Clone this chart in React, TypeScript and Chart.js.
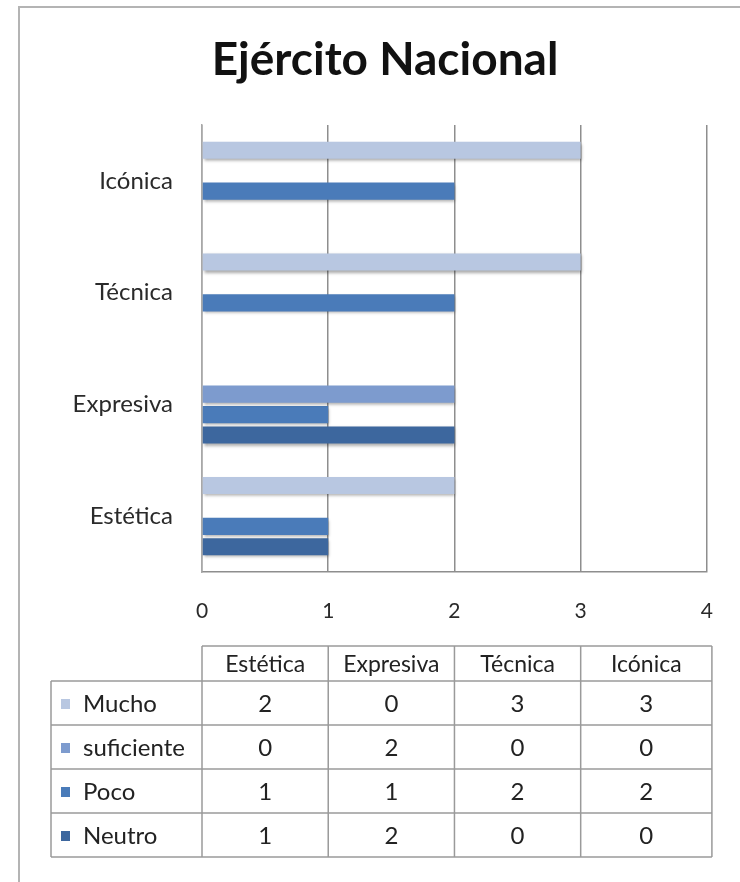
import React, { useEffect, useRef } from "react";
import { Chart, registerables } from "chart.js";

Chart.register(...registerables);

const TITLE = "Ejército Nacional";
const categories = ["Estética", "Expresiva", "Técnica", "Icónica"];
const seriesNames = ["Mucho", "suficiente", "Poco", "Neutro"];
const mucho = [2, 0, 3, 3];
const suficiente = [0, 2, 0, 0];
const poco = [1, 1, 2, 2];
const neutro = [1, 2, 0, 0];
const seriesColors = ["#b8c7e1", "#7d9bce", "#4a7bb9", "#3d679e"];
const xTicks = [0, 1, 2, 3, 4];

const FONT = "Lato, 'Open Sans', sans-serif";

export default function App() {
  const ref = useRef<HTMLCanvasElement | null>(null);

  useEffect(() => {
    const canvas = ref.current;
    if (!canvas) return;
    const seriesValues = [mucho, suficiente, poco, neutro];
    // chart shows categories top-to-bottom in reverse table order
    const order = categories.map((_, i) => categories.length - 1 - i);
    const labels = order.map((i) => categories[i]);

    const framePlugin = {
      id: "frame",
      beforeDraw(chart: any) {
        const ctx = chart.ctx;
        ctx.save();
        ctx.fillStyle = "#ffffff";
        ctx.fillRect(0, 0, chart.width, chart.height);
        ctx.strokeStyle = "#b4b4b4";
        ctx.lineWidth = 2;
        ctx.beginPath();
        ctx.moveTo(19, chart.height);
        ctx.lineTo(19, 7);
        ctx.lineTo(chart.width, 7);
        ctx.stroke();
        // title
        ctx.fillStyle = "#111111";
        ctx.font = `bold 46px ${FONT}`;
        ctx.textAlign = "center";
        ctx.textBaseline = "alphabetic";
        ctx.fillText(TITLE, 385, 75);
        ctx.restore();
      },
    };

    const shadowPlugin = {
      id: "barShadow",
      beforeDatasetsDraw(chart: any) {
        const ctx = chart.ctx;
        ctx.save();
        ctx.shadowColor = "rgba(0,0,0,0.35)";
        ctx.shadowOffsetX = 1;
        ctx.shadowOffsetY = 2;
        ctx.shadowBlur = 3;
      },
      afterDatasetsDraw(chart: any) {
        chart.ctx.restore();
      },
    };

    const tablePlugin = {
      id: "dataTable",
      afterDraw(chart: any) {
        const ctx = chart.ctx;
        const xs = chart.scales.x;
        const cols = xTicks.map((v) => xs.getPixelForValue(v));
        const left = 51;
        const headTop = 646;
        const headBottom = 681;
        const rowH = 44;
        const bottom = headBottom + rowH * seriesNames.length;
        const right = cols[cols.length - 1] + 5;
        cols[cols.length - 1] = right;
        ctx.save();
        ctx.strokeStyle = "#9a9a9a";
        ctx.lineWidth = 1.5;
        ctx.beginPath();
        ctx.moveTo(cols[0], headTop);
        ctx.lineTo(right, headTop);
        for (let r = 0; r <= seriesNames.length; r++) {
          const y = headBottom + r * rowH;
          ctx.moveTo(left, y);
          ctx.lineTo(right, y);
        }
        ctx.moveTo(left, headBottom);
        ctx.lineTo(left, bottom);
        cols.forEach((x) => {
          ctx.moveTo(x, headTop);
          ctx.lineTo(x, bottom);
        });
        ctx.stroke();

        ctx.fillStyle = "#222222";
        ctx.font = `23px ${FONT}`;
        ctx.textAlign = "center";
        ctx.textBaseline = "middle";
        categories.forEach((c, i) => {
          ctx.fillText(c, (cols[i] + cols[i + 1]) / 2, (headTop + headBottom) / 2 + 1);
        });
        ctx.font = `24px ${FONT}`;
        seriesNames.forEach((s, r) => {
          const cy = headBottom + r * rowH + rowH / 2 + 1;
          ctx.fillStyle = seriesColors[r];
          ctx.fillRect(61, cy - 5, 9, 10);
          ctx.fillStyle = "#222222";
          ctx.textAlign = "left";
          ctx.fillText(s, 83, cy);
          ctx.textAlign = "center";
          seriesValues[r].forEach((v, i) => {
            ctx.fillText(String(v), (cols[i] + cols[i + 1]) / 2, cy);
          });
        });
        ctx.restore();
      },
    };

    const chart = new Chart(canvas, {
      type: "bar",
      data: {
        labels,
        datasets: seriesNames.map((name, s) => ({
          label: name,
          data: order.map((i) => seriesValues[s][i]),
          backgroundColor: seriesColors[s],
          borderWidth: 0,
          categoryPercentage: 0.73,
          barPercentage: 0.84,
        })),
      },
      options: {
        indexAxis: "y",
        responsive: false,
        animation: false,
        events: [],
        layout: { padding: { top: 125, left: 0, right: 29, bottom: 260 } },
        plugins: {
          legend: { display: false },
          title: { display: false },
          tooltip: { enabled: false },
        },
        scales: {
          x: {
            min: 0,
            max: 4,
            afterFit: (scale: any) => {
              scale.height = 50;
            },
            afterBuildTicks: (scale: any) => {
              scale.ticks = xTicks.map((v) => ({ value: v }));
            },
            ticks: {
              color: "#2a2a2a",
              font: { family: FONT, size: 21 },
              padding: 27,
            },
            grid: {
              color: "#8e8e8e",
              lineWidth: 1.5,
              drawTicks: false,
            },
            border: { display: true, color: "#8e8e8e", width: 1.5 },
          },
          y: {
            afterFit: (scale: any) => {
              scale.width = 202;
            },
            ticks: {
              color: "#2a2a2a",
              font: { family: FONT, size: 24 },
              padding: 29,
            },
            grid: { display: false, drawTicks: false },
            border: { display: true, color: "#a8a8a8", width: 1.5 },
          },
        },
      },
      plugins: [framePlugin, shadowPlugin, tablePlugin],
    });

    if ((document as any).fonts && (document as any).fonts.load) {
      Promise.all([
        (document as any).fonts.load(`bold 46px Lato`),
        (document as any).fonts.load(`24px Lato`),
      ]).then(() => {
        try {
          chart.update();
        } catch (e) {}
      });
    }

    return () => {
      chart.destroy();
    };
  }, []);

  return (
    <div style={{ position: "absolute", left: 0, top: 0, width: 740, height: 882, background: "#fff" }}>
      <canvas ref={ref} width={740} height={882} style={{ width: 740, height: 882, display: "block" }} />
    </div>
  );
}
